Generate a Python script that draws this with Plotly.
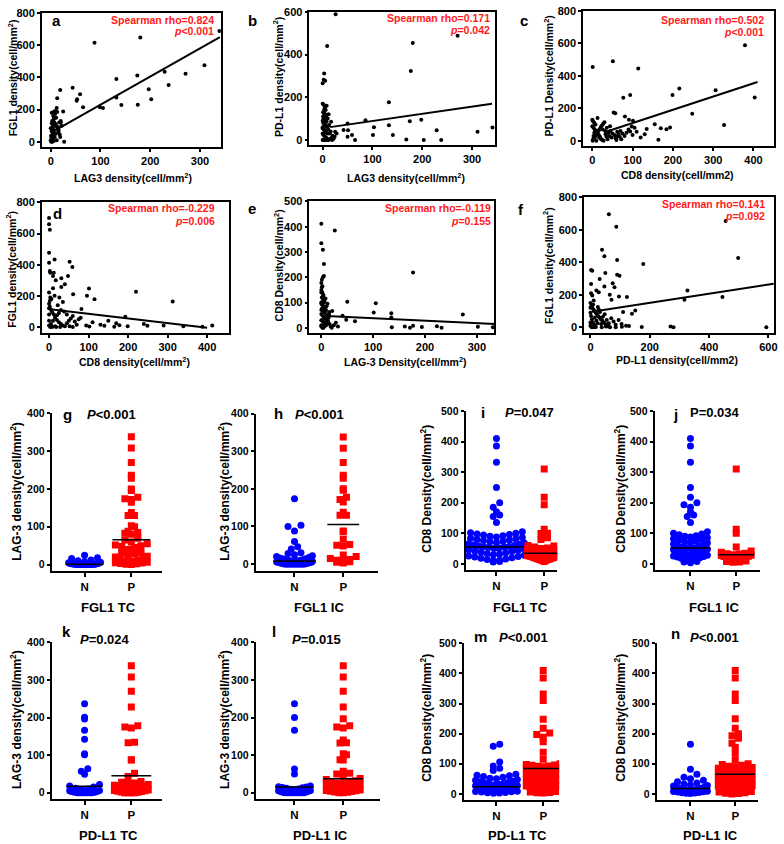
import plotly.graph_objects as go

W, H = 784, 844
FONT = "Liberation Sans"

# ---------------- scatter panels (x, y) ----------------
a_pts = [(88, 615), (180, 648), (339, 688), (132, 390), (174, 412), (229, 435), (309, 475), (271, 423),
         (237, 353), (197, 327), (202, 265), (132, 275), (142, 228), (175, 230), (99, 214), (105, 210),
         (44, 335), (59, 296), (52, 255), (53, 265), (65, 214), (19, 322), (13, 271), (12, 210), (25, 188),
         (7, 188), (20, 130), (17, 120), (19, 30), (27, 0), (2, 5), (3, 15), (1, 30), (4, 45), (5, 60),
         (6, 75), (3, 90), (8, 100), (10, 110), (7, 120), (12, 95), (14, 80), (2, 180), (5, 160), (9, 175),
         (11, 150), (6, 140), (15, 60), (18, 45), (20, 120), (22, 100), (4, 20), (8, 30), (12, 10), (1, 0),
         (3, 0), (6, 5), (10, 50), (15, 90), (2, 115), (9, 190), (13, 185), (16, 70), (0, 10), (1, 40),
         (2, 65), (0, 85), (5, 100), (3, 130), (7, 55)]
b_pts = [(26, 589), (9, 440), (3, 311), (2, 282), (5, 277), (0, 266), (181, 454), (177, 323), (271, 488),
         (133, 177), (86, 92), (133, 69), (175, 88), (198, 95), (103, 60), (101, 23), (141, 23), (168, 2),
         (203, 0), (229, 45), (238, 0), (311, 38), (341, 58), (50, 77), (51, 45), (42, 46), (50, 15), (59, 23),
         (65, 0), (17, 85), (25, 38), (0, 170), (2, 165), (4, 150), (6, 140), (1, 130), (3, 125), (5, 120),
         (7, 110), (2, 100), (4, 95), (6, 90), (8, 85), (1, 80), (3, 75), (5, 70), (7, 65), (9, 60), (0, 55),
         (2, 50), (4, 45), (6, 40), (8, 35), (10, 30), (1, 25), (3, 20), (5, 15), (7, 10), (9, 5), (0, 0),
         (2, 0), (4, 0), (6, 0), (8, 0), (12, 0), (15, 5), (18, 10), (20, 20), (14, 30), (11, 50), (13, 70),
         (16, 40), (10, 100), (12, 120), (3, 140), (8, 160), (1, 110), (0, 90), (0, 60), (0, 30), (22, 5),
         (19, 0), (24, 15), (28, 30)]
c_pts = [(1, 455), (51, 490), (114, 445), (379, 588), (403, 267), (306, 312), (216, 322), (199, 282),
         (248, 167), (327, 98), (77, 265), (94, 282), (53, 175), (57, 169), (81, 149), (91, 129), (101, 124),
         (135, 73), (155, 102), (170, 78), (184, 71), (193, 82), (164, 6), (98, 88), (94, 57), (61, 27),
         (0, 130), (2, 120), (5, 110), (8, 100), (0, 90), (3, 80), (6, 70), (10, 60), (12, 50), (15, 40),
         (18, 30), (20, 20), (22, 10), (25, 5), (1, 0), (4, 15), (7, 25), (9, 35), (11, 45), (14, 55), (16, 65),
         (19, 75), (21, 85), (24, 95), (27, 105), (30, 115), (33, 40), (35, 25), (38, 10), (40, 50), (42, 30),
         (45, 60), (48, 20), (50, 45), (55, 35), (58, 15), (62, 55), (65, 40), (68, 25), (70, 60), (72, 10),
         (75, 45), (28, 0), (32, 60), (36, 80), (44, 90), (13, 140), (17, 20), (26, 70), (5, 50), (3, 30),
         (2, 10), (10, 0), (60, 5), (80, 30), (85, 50), (90, 70), (100, 35), (110, 55), (120, 20), (130, 40),
         (105, 80)]
d_pts = [(0, 700), (0, 660), (2, 625), (0, 477), (0, 413), (2, 360), (3, 349), (14, 434), (12, 349), (10, 327),
         (17, 300), (31, 313), (52, 419), (59, 385), (48, 328), (40, 274), (10, 249), (31, 257), (101, 247),
         (96, 200), (115, 179), (220, 226), (313, 164), (193, 66), (0, 221), (3, 189), (2, 168), (61, 210),
         (82, 115), (52, 5), (94, 10), (102, 3), (140, 8), (165, 2), (178, 12), (199, 5), (249, 8), (388, 2),
         (413, 10), (0, 150), (2, 130), (5, 110), (8, 95), (12, 80), (15, 60), (20, 45), (25, 30), (30, 20),
         (35, 10), (40, 5), (45, 25), (50, 40), (55, 55), (60, 70), (65, 35), (70, 15), (75, 50), (5, 20),
         (10, 40), (15, 5), (20, 75), (25, 90), (30, 110), (38, 100), (45, 80), (0, 40), (0, 80), (0, 10),
         (3, 0), (8, 0), (18, 0), (28, 0), (60, 0), (80, 60), (110, 30), (130, 15), (150, 40), (170, 25),
         (240, 20), (290, 10), (340, 5), (0, 120), (6, 180), (22, 140), (35, 160), (14, 200), (26, 190)]
e_pts = [(0, 412), (0, 334), (3, 309), (26, 385), (5, 252), (1, 190), (3, 200), (5, 205), (0, 177), (2, 164),
         (8, 116), (177, 219), (50, 103), (105, 97), (101, 61), (135, 58), (135, 41), (273, 53), (21, 67),
         (15, 63), (41, 48), (48, 32), (65, 26), (136, 2), (161, 5), (171, 0), (177, 8), (194, 3), (223, 6),
         (232, 0), (302, 4), (331, 2), (0, 150), (2, 140), (4, 130), (1, 120), (3, 110), (5, 100), (0, 95),
         (2, 90), (4, 85), (6, 80), (1, 75), (3, 70), (5, 65), (7, 60), (0, 55), (2, 50), (4, 45), (6, 40),
         (8, 35), (1, 30), (3, 25), (5, 20), (7, 15), (9, 10), (0, 5), (2, 0), (4, 0), (6, 5), (8, 10),
         (10, 20), (12, 30), (14, 40), (11, 50), (13, 25), (16, 15), (18, 5), (20, 0), (24, 10), (28, 20),
         (32, 5), (9, 70), (10, 85), (12, 95), (15, 55), (6, 105), (3, 125), (0, 140), (1, 160), (0, 100),
         (0, 70), (0, 30), (0, 10)]
f_pts = [(62, 696), (87, 620), (39, 477), (47, 437), (90, 414), (2, 353), (6, 349), (178, 390), (456, 655),
         (498, 427), (50, 335), (98, 318), (90, 324), (31, 298), (20, 227), (28, 216), (2, 267), (75, 271),
         (81, 247), (47, 251), (65, 200), (71, 169), (96, 190), (123, 186), (2, 210), (6, 196), (11, 165),
         (327, 227), (317, 169), (445, 186), (151, 104), (140, 84), (110, 94), (18, 2), (52, 5), (85, 0),
         (106, 3), (130, 8), (173, 2), (270, 5), (280, 0), (593, 0), (0, 150), (3, 130), (6, 120), (10, 110),
         (14, 100), (18, 90), (22, 80), (26, 70), (30, 60), (35, 50), (40, 40), (45, 30), (50, 20), (55, 10),
         (60, 5), (0, 90), (2, 70), (5, 50), (8, 30), (12, 15), (16, 5), (20, 40), (24, 25), (28, 110),
         (32, 95), (36, 20), (42, 65), (48, 80), (55, 45), (62, 25), (70, 55), (78, 35), (85, 15), (95, 45),
         (105, 20), (120, 10), (0, 30), (0, 10), (4, 0), (10, 0), (38, 0), (66, 0), (0, 120), (9, 140),
         (15, 60), (25, 125)]

# regression lines: (slope, intercept, x_start, x_end)
a_fit = (1.75, 55, 8, 340)
b_fit = (0.338, 55, 15, 340)
c_fit = (0.816, 28, 36, 410)
d_fit = (-0.30, 115, 2, 400)
e_fit = (-0.098, 48, 0, 337)
f_fit = (0.28, 95, 5, 618)

rho_labels = ["Spearman rho=0.824", "Spearman rho=0.171", "Spearman rho=0.502",
              "Spearman rho=-0.229", "Spearman rho=-0.119", "Spearman rho=0.141"]
p_labels = ["<i>p</i>&lt;0.001", "<i>p</i>=0.042", "<i>p</i>&lt;0.001",
            "<i>p</i>=0.006", "<i>p</i>=0.155", "<i>p</i>=0.092"]

# ---------------- dot plots (N group, P group, line values) ----------------
g_N = [25, 18, 16, 12, 10, 8, 6, 5, 4, 3, 3, 2, 2, 2, 1, 1, 1, 1, 0, 0, 0, 0, 0, 0, 0, 0, 0, 0, 0, 0]
g_P = [338, 308, 270, 236, 228, 200, 196, 178, 174, 172, 165, 138, 130, 130, 103, 100, 88, 85, 83, 80, 70,
       65, 60, 55, 52, 50, 48, 45, 40, 32, 30, 28, 25, 22, 20, 18, 15, 12, 10, 9, 8, 6, 5, 4, 3, 2, 1, 0]
g_line = [1, 66]
h_N = [174, 103, 100, 88, 60, 46, 40, 30, 28, 25, 22, 20, 18, 16, 15, 14, 12, 12, 10, 10, 9, 8, 8, 7, 6, 5,
       5, 4, 4, 3, 3, 2, 2, 1, 1, 0, 0, 0, 0, 0, 0, 0, 0, 0, 0, 0, 0, 0, 0, 0]
h_P = [338, 308, 270, 236, 228, 200, 196, 178, 172, 165, 138, 130, 130, 88, 86, 66, 52, 50, 48, 24, 20, 15,
       12, 10, 8, 6, 5, 3]
h_line = [8, 105]
i_N = [410, 385, 332, 250, 200, 185, 170, 160, 155, 135, 105, 102, 100, 98, 96, 94, 92, 90, 88, 86, 84, 82,
       80, 78, 76, 74, 72, 70, 68, 66, 64, 62, 60, 58, 57, 56, 55, 54, 52, 50, 48, 46, 44, 42, 40, 38, 36,
       34, 32, 30, 28, 26, 24, 22, 20, 18, 16, 14, 12, 10, 8, 6]
i_P = [310, 218, 193, 113, 100, 99, 85, 80, 62, 60, 58, 55, 52, 50, 48, 46, 45, 44, 42, 40, 38, 37, 36, 35,
       34, 33, 32, 31, 30, 29, 28, 27, 26, 25, 24, 23, 22, 21, 20, 19, 18, 17, 16, 15, 14, 13, 12, 11, 10, 8]
i_line = [55, 35]
j_N = [410, 385, 332, 250, 218, 200, 193, 185, 170, 160, 155, 135, 105, 100, 98, 95, 92, 90, 88, 85, 82, 80,
       78, 75, 72, 70, 68, 65, 62, 60, 58, 55, 53, 52, 50, 48, 46, 44, 42, 40, 38, 36, 34, 32, 30, 28, 26,
       24, 22, 20, 18, 16, 14, 12, 10, 8, 6, 4]
j_P = [310, 113, 100, 55, 42, 38, 35, 33, 32, 30, 28, 27, 25, 24, 22, 20, 18, 16, 15, 14, 12, 10, 9, 8, 6, 5]
j_line = [52, 30]
k_N = [237, 201, 196, 166, 142, 104, 101, 64, 57, 49, 22, 18, 15, 12, 10, 8, 6, 5, 4, 3, 2, 2, 1, 1, 0, 0,
       0, 0, 0, 0, 0, 0]
k_P = [338, 308, 270, 228, 178, 175, 172, 134, 133, 88, 87, 52, 43, 30, 28, 26, 25, 22, 20, 18, 16, 15, 14,
       12, 10, 9, 8, 7, 6, 5, 4, 3, 2, 1, 0, 0, 0, 0]
k_line = [17, 45]
l_N = [237, 200, 166, 63, 50, 18, 16, 15, 14, 13, 12, 10, 9, 8, 6, 5, 4, 3, 2, 1, 0, 0, 0, 0, 0, 0, 0, 0, 0, 0]
l_P = [338, 308, 270, 228, 197, 178, 175, 172, 140, 133, 132, 104, 101, 88, 87, 57, 52, 50, 42, 38, 35, 32,
       30, 28, 26, 25, 24, 22, 20, 18, 17, 15, 14, 13, 12, 11, 10, 9, 8, 7, 6, 5, 4, 3, 2, 1, 0, 0]
l_line = [15, 37]
m_N = [165, 158, 106, 93, 85, 78, 65, 62, 60, 58, 55, 52, 50, 48, 45, 42, 40, 38, 36, 35, 33, 32, 30, 28,
       27, 26, 25, 24, 23, 22, 21, 20, 19, 18, 17, 16, 15, 14, 13, 12, 11, 10, 9, 8, 7, 6, 5, 4, 3, 2]
m_P = [410, 385, 332, 310, 248, 218, 202, 197, 188, 173, 138, 115, 100, 98, 96, 95, 93, 92, 90, 88, 87, 86,
       85, 84, 83, 82, 80, 78, 76, 75, 73, 72, 70, 68, 66, 65, 63, 62, 60, 58, 56, 55, 53, 52, 50, 48, 46,
       45, 43, 42, 40, 38, 36, 35, 33, 32, 30, 28, 26, 25, 22, 20, 18, 16, 14, 12, 10, 8, 6, 5, 4, 3]
m_line = [24, 84]
n_N = [165, 82, 65, 55, 50, 45, 40, 36, 33, 30, 28, 26, 24, 22, 20, 19, 18, 17, 16, 15, 14, 13, 12, 11, 10,
       9, 8, 7, 6, 5, 4, 3, 2, 1]
n_P = [410, 385, 332, 310, 250, 218, 200, 193, 185, 168, 155, 135, 113, 100, 98, 95, 92, 90, 88, 85, 82, 80,
       78, 75, 72, 70, 68, 66, 65, 63, 60, 58, 56, 55, 52, 50, 48, 46, 44, 42, 40, 38, 36, 34, 32, 30, 28,
       26, 24, 22, 20, 18, 16, 14, 12, 10, 8, 6, 4, 2, 1, 0]
n_line = [18, 65]

group_ticks = ["N", "P"]

# ---------------- layout helpers (positions given in screen pixels) ----------------
def dom(l, r, t, b):
    return [l / W, r / W], [1 - b / H, 1 - t / H]

TF = dict(family=FONT, size=11, color="black", weight="bold")
TF_Y2 = dict(family=FONT, size=10.5, color="black", weight="bold")
TF_X2 = dict(family=FONT, size=11.5, color="black", weight="bold")

fig = go.Figure()
layout = dict(width=W, height=H, margin=dict(l=0, r=0, t=0, b=0), paper_bgcolor="white",
              plot_bgcolor="white", showlegend=False)
annots = []

def ann(text, x, y, size, color="black", xanchor="center", angle=0):
    annots.append(dict(text=text, x=x / W, y=1 - y / H, xref="paper", yref="paper",
                       showarrow=False, xanchor=xanchor, yanchor="middle", textangle=angle,
                       font=dict(family=FONT, size=size, color=color, weight="bold")))

scatter_specs = [
    (a_pts, a_fit, (42, 222, 7, 142), [-18, 342], [-31, 800], [0, 100, 200, 300], [0, 200, 400, 600, 800]),
    (b_pts, b_fit, (311, 498, 6, 140), [-26.6, 347], [-23, 600], [0, 100, 200, 300], [0, 200, 400, 600]),
    (c_pts, c_fit, (586, 778, 5, 141), [-23, 451], [-31, 800], [0, 100, 200, 300, 400], [0, 200, 400, 600, 800]),
    (d_pts, d_fit, (42, 230, 198, 330), [-18.4, 455], [-40, 800], [0, 100, 200, 300, 400], [0, 200, 400, 600, 800]),
    (e_pts, e_fit, (311, 497, 197, 330), [-23, 334], [-21.5, 500], [0, 100, 200, 300], [0, 100, 200, 300, 400, 500]),
    (f_pts, f_fit, (587, 778, 193, 330), [-21.8, 619], [-36.7, 800], [0, 200, 400, 600], [0, 200, 400, 600, 800]),
]

idx = 0
for pts, fit, box, xr, yr, xt, yt in scatter_specs:
    idx += 1
    xn = "x" if idx == 1 else f"x{idx}"
    yn = "y" if idx == 1 else f"y{idx}"
    xd, yd = dom(*box)
    common = dict(showline=True, linecolor="black", linewidth=1.5, mirror=True, ticks="outside", ticklen=3,
                  tickwidth=1.5, tickcolor="black", showgrid=False, zeroline=False, tickfont=TF)
    layout["xaxis" if idx == 1 else f"xaxis{idx}"] = dict(domain=xd, range=xr, tickvals=xt, anchor=yn, **common)
    layout["yaxis" if idx == 1 else f"yaxis{idx}"] = dict(domain=yd, range=yr, tickvals=yt, anchor=xn, **common)
    fig.add_trace(go.Scatter(x=[p[0] for p in pts], y=[p[1] for p in pts], mode="markers", xaxis=xn, yaxis=yn,
                             marker=dict(color="black", size=4), hoverinfo="skip"))
    s, b0, x0, x1 = fit
    fig.add_trace(go.Scatter(x=[x0, x1], y=[b0 + s * x0, b0 + s * x1], mode="lines", xaxis=xn, yaxis=yn,
                             line=dict(color="black", width=2), hoverinfo="skip"))


def swarm(values, center, pxu_y, pxu_x, maxhalf, step=6.5, binpx=6.0):
    bins = {}
    for v in values:
        bins.setdefault(int(round(v * pxu_y / binpx)), []).append(v)
    xs, ys, ext = [], [], 0
    for k in sorted(bins):
        vs = sorted(bins[k])
        n = len(vs)
        sp = step if n < 2 else min(step, 2 * maxhalf / (n - 1))
        order = sorted(range(n), key=lambda i: abs(i - (n - 1) / 2))
        for j, v in zip(order, vs):
            off = (j - (n - 1) / 2) * sp
            ext = max(ext, abs(off))
            xs.append(center + off / pxu_x)
            ys.append(v)
    return xs, ys, ext

# (N, P, line, box px, N px, px per group, y px/unit, y range, y ticks, maxhalf N, maxhalf P)
dot_specs = [
    (g_N, g_P, g_line, (52, 163, 410.7, 570), 85, 47, 0.3815, [-17.6, 400], [0, 100, 200, 300, 400], 16, 16),
    (h_N, h_P, h_line, (257, 380, 411, 570), 296, 49, 0.378, [-19, 400], [0, 100, 200, 300, 400], 18, 16),
    (i_N, i_P, i_line, (468, 560, 408.3, 569), 499, 48, 0.3084, [-21, 500], [0, 100, 200, 300, 400, 500], 28, 17),
    (j_N, j_P, j_line, (658, 764, 408.3, 569), 694, 46, 0.3084, [-21, 500], [0, 100, 200, 300, 400, 500], 17, 15),
    (k_N, k_P, k_line, (52, 163, 641.7, 800), 85, 47, 0.379, [-17.7, 400], [0, 100, 200, 300, 400], 15, 17),
    (l_N, l_P, l_line, (257, 382, 641.7, 800), 296, 49, 0.379, [-17.7, 400], [0, 100, 200, 300, 400], 16, 17),
    (m_N, m_P, m_line, (466, 562, 642.7, 801), 499, 47, 0.3036, [-21.4, 500], [0, 100, 200, 300, 400, 500], 21, 17),
    (n_N, n_P, n_line, (660, 762, 642.7, 801), 694, 45, 0.3036, [-21.4, 500], [0, 100, 200, 300, 400, 500], 17, 17),
]

for N, P, line, box, npx, gpx, pyu, yr, yt, mhN, mhP in dot_specs:
    idx += 1
    xn, yn = f"x{idx}", f"y{idx}"
    l, r, t, b = box
    xd, yd = dom(l, r, t, b)
    xr = [(l - npx) / gpx, (r - npx) / gpx]
    layout[f"xaxis{idx}"] = dict(domain=xd, range=xr, tickvals=[0, 1], ticktext=group_ticks, anchor=yn,
                                 showline=True, linecolor="black", linewidth=2, ticks="outside", ticklen=4,
                                 tickwidth=2, tickcolor="black", showgrid=False, zeroline=False, tickfont=TF_X2)
    layout[f"yaxis{idx}"] = dict(domain=yd, range=yr, tickvals=yt, anchor=xn, showline=True, linecolor="black",
                                 linewidth=2, ticks="outside", ticklen=3, tickwidth=2, tickcolor="black",
                                 showgrid=False, zeroline=False, tickfont=TF_Y2)
    for gi, (vals, mh, col, sym) in enumerate([(N, mhN, "#0000FF", "circle"), (P, mhP, "#FF0000", "square")]):
        xs, ys, ext = swarm(vals, gi, pyu, gpx, mh)
        fig.add_trace(go.Scatter(x=xs, y=ys, mode="markers", xaxis=xn, yaxis=yn, hoverinfo="skip",
                                 marker=dict(color=col, size=7, symbol=sym, line=dict(width=0))))
        half = (ext + 3) / gpx
        fig.add_trace(go.Scatter(x=[gi - half, gi + half], y=[line[gi], line[gi]], mode="lines", xaxis=xn,
                                 yaxis=yn, line=dict(color="black", width=1.5), hoverinfo="skip"))

# ---------------- text ----------------
SUP = "(cell/mm<sup>2</sup>)"
# scatter axis titles
ann("LAG3 density" + SUP, 134, 173, 10.5)
ann("LAG3 density" + SUP, 408, 173, 10.5)
ann("CD8 density(cell/mm2)", 681, 170, 10.5)
ann("CD8 density" + SUP, 135, 358, 10.5)
ann("LAG-3 Density" + SUP, 408, 358, 10.5)
ann("PD-L1 density(cell/mm2)", 680, 357, 10.5)
ann("FGL1 density" + SUP, 12, 72, 10.5, angle=-90)
ann("PD-L1 density" + SUP, 279, 72, 10.5, angle=-90)
ann("PD-L1 Density" + SUP, 551, 71, 10.5, angle=-90)
ann("FGL1 density" + SUP, 11, 265, 10.5, angle=-90)
ann("CD8 Density" + SUP, 280, 262, 10.5, angle=-90)
ann("FGL1 density" + SUP, 551, 262, 10.5, angle=-90)
# stats text
rho_pos = [(217, 14, 25), (495, 12, 24), (770, 14, 26), (218, 204, 217), (496, 204, 217), (771, 200, 212)]
for (xp, y1, y2), rt, pt in zip(rho_pos, rho_labels, p_labels):
    ann(rt, xp, y1, 10.5, color="#FF1A1A", xanchor="right")
    ann(pt, xp, y2, 10.5, color="#FF1A1A", xanchor="right")
# panel letters
for ch, xp, yp in [("a", 57, 15), ("b", 254, 15), ("c", 527, 15), ("d", 58, 209), ("e", 253, 204),
                   ("f", 524, 205), ("g", 68, 412), ("h", 280, 411), ("i", 485, 410), ("j", 679, 412),
                   ("k", 67, 631), ("l", 275, 631), ("m", 483, 636), ("n", 679, 633)]:
    ann(ch, xp, yp, 15)
# dot plot P values
for t, xp, yp in [("<i>P</i>&lt;0.001", 112, 412), ("<i>P</i>&lt;0.001", 321, 412), ("<i>P</i>=0.047", 532, 410),
                  ("P=0.034", 719, 410), ("<i>P</i>=0.024", 106, 639), ("<i>P</i>=0.015", 318, 639),
                  ("<i>P</i>&lt;0.001", 526, 637), ("<i>P</i>&lt;0.001", 718, 637)]:
    ann(t, xp, yp, 13)
# dot plot y titles
for t, xp, yp in [("LAG-3 density" + SUP, 16, 489), ("LAG-3 density" + SUP, 225, 489),
                  ("CD8 Density" + SUP, 428, 487), ("CD8 Density" + SUP, 623, 487),
                  ("LAG-3 density" + SUP, 16, 719), ("LAG-3 density" + SUP, 225, 719),
                  ("CD8 Density" + SUP, 428, 718), ("CD8 Density" + SUP, 623, 718)]:
    ann(t, xp, yp, 12, angle=-90)
# group titles
for t, xp, yp in [("FGL1 TC", 109, 607), ("FGL1 IC", 321, 607), ("FGL1 TC", 523, 607), ("FGL1 IC", 718, 607),
                  ("PD-L1 TC", 109, 836), ("PD-L1 IC", 322, 836), ("PD-L1 TC", 520, 836),
                  ("PD-L1 IC", 714, 836)]:
    ann(t, xp, yp, 13)

layout["annotations"] = annots
fig.update_layout(**layout)
fig.write_html("out.html", config={"displayModeBar": False},
               post_script="document.body.style.margin='0px';document.body.style.overflow='hidden';")
